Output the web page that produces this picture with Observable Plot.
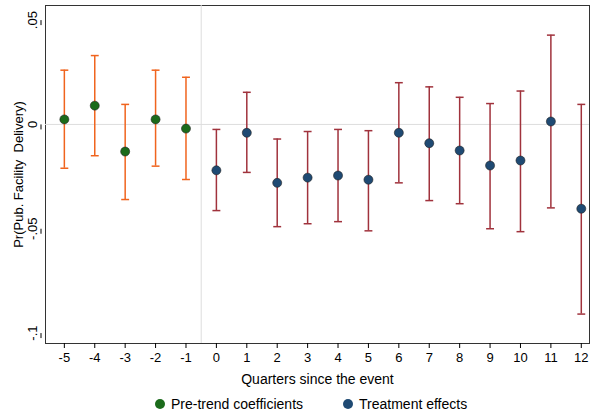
<!DOCTYPE html>
<html>
<head>
<meta charset="utf-8">
<script src="https://cdn.jsdelivr.net/npm/d3@7"></script>
<script src="https://cdn.jsdelivr.net/npm/@observablehq/plot@0.6"></script>
<style>
  body { margin: 0; background: white; font-family: "Liberation Sans", Arial, sans-serif; }
  #legend { display: flex; gap: 40px; margin-left: 155px; font-size: 14px; margin-top: 6px; }
  .key { display: flex; align-items: center; gap: 6px; }
  .sw { width: 10px; height: 10px; border-radius: 50%; display: inline-block; }
</style>
</head>
<body>
<div id="chart"></div>
<div id="legend">
  <span class="key"><span class="sw" style="background:#1b6b1b"></span>Pre-trend coefficients</span>
  <span class="key"><span class="sw" style="background:#1f4a73"></span>Treatment effects</span>
</div>
<script>
// Event-study estimates
const quarters = [-5, -4, -3, -2, -1, 0, 1, 2, 3, 4, 5, 6, 7, 8, 9, 10, 11, 12];
const estimates = [0.0024, 0.009, -0.013, 0.0024, -0.002, -0.022, -0.004, -0.028, -0.0255, -0.0245, -0.0265, -0.004, -0.009, -0.0125, -0.0197, -0.0173, 0.0014, -0.0404];
const ciHigh = [0.026, 0.033, 0.0096, 0.026, 0.0226, -0.0024, 0.0154, -0.007, -0.0034, -0.0024, -0.003, 0.020, 0.018, 0.013, 0.010, 0.016, 0.0428, 0.0096];
const ciLow = [-0.021, -0.015, -0.036, -0.020, -0.0264, -0.0413, -0.023, -0.049, -0.0476, -0.0466, -0.051, -0.028, -0.0365, -0.038, -0.050, -0.0514, -0.040, -0.0909];
const yTicks = [0.05, 0, -0.05, -0.1];
const yTickLabels = [".05", "0", "-.05", "-.1"];

const data = quarters.map((q, i) => ({q, est: estimates[i], hi: ciHigh[i], lo: ciLow[i], pre: q < 0}));
const barColor = d => d.pre ? "#f0641e" : "#a0323c";
const dotColor = d => d.pre ? "#1b6b1b" : "#1f4a73";
const cap = 0.13;

const plot = Plot.plot({
  width: 590,
  height: 390,
  marginLeft: 45,
  marginRight: 1,
  marginTop: 5,
  marginBottom: 47,
  style: {fontFamily: "Liberation Sans, Arial, sans-serif", fontSize: "14px"},
  x: {domain: [-5.62, 12.27], label: null},
  y: {domain: [-0.105, 0.057], label: null},
  marks: [
    Plot.frame({stroke: "#333"}),
    Plot.ruleY([0], {stroke: "#ddd"}),
    Plot.ruleX([-0.5], {stroke: "#ddd"}),
    Plot.axisX({ticks: quarters, tickFormat: d => d, tickSize: 5, fontSize: 13}),
    Plot.axisX({ticks: [], label: "Quarters since the event", labelAnchor: "center", labelArrow: "none", labelOffset: 40, fontSize: 14}),
    Plot.axisY({ticks: yTicks, tickFormat: d => yTickLabels[yTicks.indexOf(d)], tickSize: 5, rotate: -90, textAnchor: "middle", dx: -4, fontSize: 13,
      label: "Pr(Pub. Facility  Delivery)", labelAnchor: "center", labelArrow: "none", labelOffset: 32}),
    Plot.ruleX(data, {x: "q", y1: "lo", y2: "hi", stroke: barColor, strokeWidth: 1.5}),
    Plot.link(data, {x1: d => d.q - cap, x2: d => d.q + cap, y1: "lo", y2: "lo", stroke: barColor, strokeWidth: 1.5}),
    Plot.link(data, {x1: d => d.q - cap, x2: d => d.q + cap, y1: "hi", y2: "hi", stroke: barColor, strokeWidth: 1.5}),
    Plot.dot(data, {x: "q", y: "est", r: 4.5, fill: dotColor, stroke: "#222", strokeWidth: 0.6})
  ]
});
document.getElementById("chart").appendChild(plot);
</script>
</body>
</html>
